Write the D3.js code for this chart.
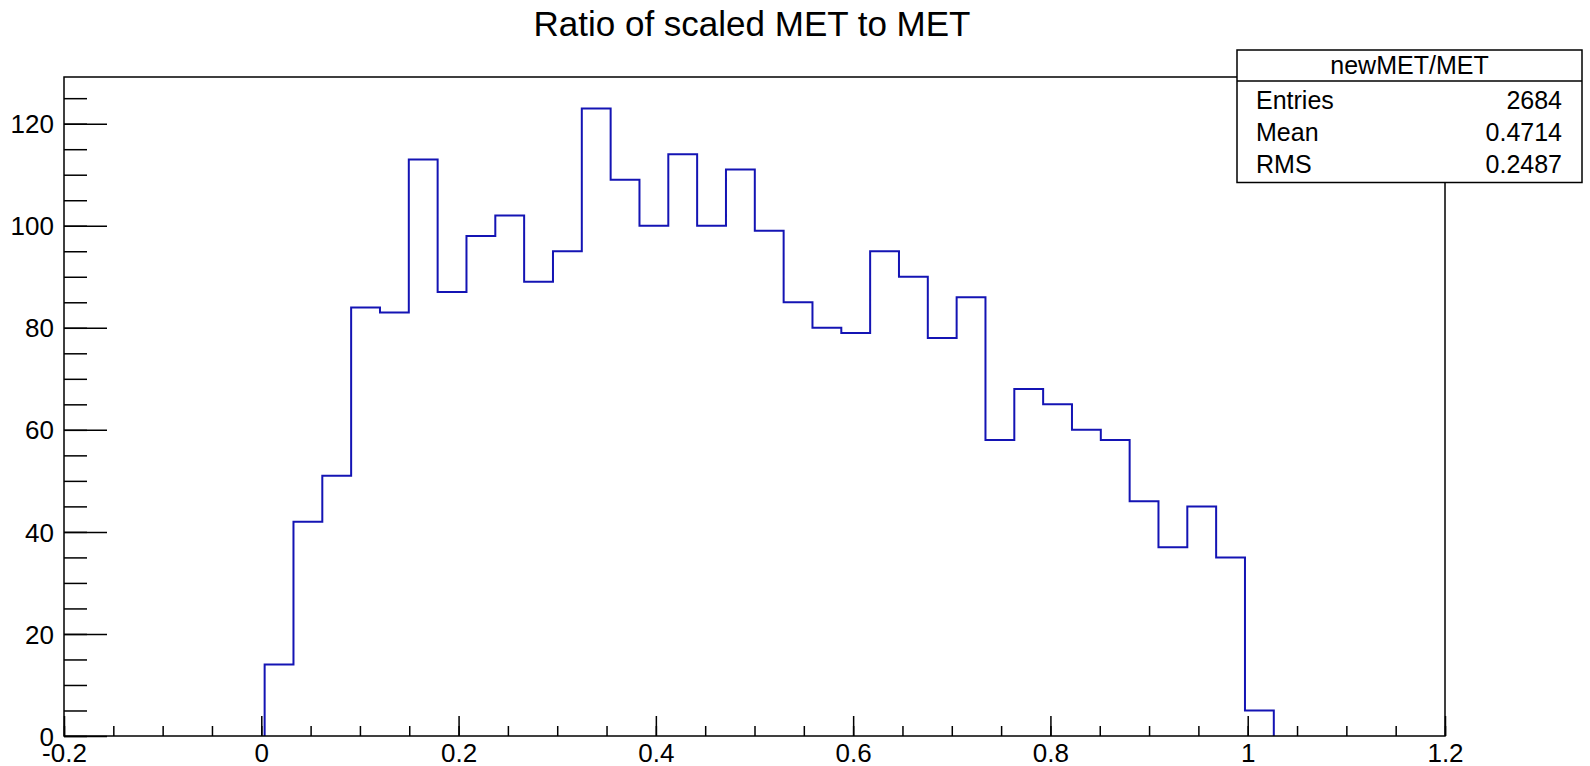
<!DOCTYPE html>
<html>
<head>
<meta charset="utf-8">
<script src="https://cdn.jsdelivr.net/npm/d3@7"></script>
<style>
  html, body { margin: 0; padding: 0; background: #ffffff; }
  svg { display: block; font-family: "Liberation Sans", Arial, Helvetica, sans-serif; }
</style>
</head>
<body>
<svg id="chart" width="1590" height="766"></svg>
<script>
// ---- data ----
const title = "Ratio of scaled MET to MET";
const histName = "newMET/MET";
const binStart = 0.0034;
const binWidth = 0.02923;
const counts = [14, 42, 51, 84, 83, 113, 87, 98, 102, 89, 95, 123, 109, 100, 114, 100, 111, 99,
                85, 80, 79, 95, 90, 78, 86, 58, 68, 65, 60, 58, 46, 37, 45, 35, 5];
const statLabels = ["Entries", "Mean", "RMS"];
const statValues = ["2684", "0.4714", "0.2487"];
const xDomain = [-0.2, 1.2];
const yDomain = [0, 129.15];
const xMajorTicks = [-0.2, 0, 0.2, 0.4, 0.6, 0.8, 1, 1.2];
const yMajorTicks = [0, 20, 40, 60, 80, 100, 120];

// ---- layout ----
const pLeft = 64, pRight = 1445, pTop = 77, pBottom = 736;
const svg = d3.select("#chart");
const x = d3.scaleLinear().domain(xDomain).range([pLeft, pRight]);
const y = d3.scaleLinear().domain(yDomain).range([pBottom, pTop]);

// title
svg.append("text")
  .attr("x", 752).attr("y", 35.5)
  .attr("text-anchor", "middle")
  .attr("font-size", 35)
  .attr("fill", "#000")
  .text(title);

// histogram (step outline)
const pts = [[binStart, 0]];
counts.forEach((c, i) => {
  const x0 = binStart + i * binWidth;
  pts.push([x0, c], [x0 + binWidth, c]);
});
pts.push([binStart + counts.length * binWidth, 0]);
const line = d3.line().x(d => x(d[0])).y(d => y(d[1]));
svg.append("path")
  .attr("d", line(pts))
  .attr("fill", "none")
  .attr("stroke", "#1414b4")
  .attr("stroke-width", 2)
  .attr("stroke-linejoin", "miter");

// frame
svg.append("rect")
  .attr("x", pLeft).attr("y", pTop)
  .attr("width", pRight - pLeft).attr("height", pBottom - pTop)
  .attr("fill", "none").attr("stroke", "#000").attr("stroke-width", 1.5);

// x axis ticks
const xMinor = d3.range(0, 29).map(i => +(-0.2 + i * 0.05).toFixed(2));
const xAxisMinor = d3.axisBottom(x).tickValues(xMinor).tickSize(-10).tickFormat("");
const xAxisMajor = d3.axisBottom(x).tickValues(xMajorTicks).tickSize(-20)
  .tickFormat(d => String(+d.toFixed(1)));
const gxm = svg.append("g").attr("transform", `translate(0,${pBottom})`).call(xAxisMinor);
const gx = svg.append("g").attr("transform", `translate(0,${pBottom})`).call(xAxisMajor);
[gxm, gx].forEach(g => {
  g.select(".domain").remove();
  g.selectAll(".tick line").attr("stroke", "#000").attr("stroke-width", 1.5);
});
gx.selectAll(".tick text")
  .attr("font-size", 26).attr("fill", "#000")
  .attr("font-family", "Liberation Sans, Arial, sans-serif")
  .attr("dy", 0).attr("y", 26);

// y axis ticks
const yMinor = d3.range(0, 26).map(i => i * 5);
const yAxisMinor = d3.axisLeft(y).tickValues(yMinor).tickSize(-23).tickFormat("");
const yAxisMajor = d3.axisLeft(y).tickValues(yMajorTicks).tickSize(-43).tickPadding(0)
  .tickFormat(d3.format("d"));
const gym = svg.append("g").attr("transform", `translate(${pLeft},0)`).call(yAxisMinor);
const gy = svg.append("g").attr("transform", `translate(${pLeft},0)`).call(yAxisMajor);
[gym, gy].forEach(g => {
  g.select(".domain").remove();
  g.selectAll(".tick line").attr("stroke", "#000").attr("stroke-width", 1.5);
});
gy.selectAll(".tick text")
  .attr("font-size", 26).attr("fill", "#000")
  .attr("font-family", "Liberation Sans, Arial, sans-serif")
  .attr("x", -10).attr("dy", "0.35em");

// stats box
const bx0 = 1237, bx1 = 1582, by0 = 50, by1 = 182.5, bsep = 81;
svg.append("rect")
  .attr("x", bx0).attr("y", by0).attr("width", bx1 - bx0).attr("height", by1 - by0)
  .attr("fill", "#fff").attr("stroke", "#000").attr("stroke-width", 1.5);
svg.append("line")
  .attr("x1", bx0).attr("x2", bx1).attr("y1", bsep).attr("y2", bsep)
  .attr("stroke", "#000").attr("stroke-width", 1.5);
svg.append("text")
  .attr("x", (bx0 + bx1) / 2).attr("y", 74)
  .attr("text-anchor", "middle").attr("font-size", 25).attr("fill", "#000")
  .text(histName);
const rowY = d3.scalePoint().domain(statLabels).range([109, 173]);
statLabels.forEach((lab, i) => {
  svg.append("text")
    .attr("x", 1256).attr("y", rowY(lab))
    .attr("font-size", 25).attr("fill", "#000").text(lab);
  svg.append("text")
    .attr("x", 1562).attr("y", rowY(lab))
    .attr("text-anchor", "end")
    .attr("font-size", 25).attr("fill", "#000").text(statValues[i]);
});
</script>
</body>
</html>
